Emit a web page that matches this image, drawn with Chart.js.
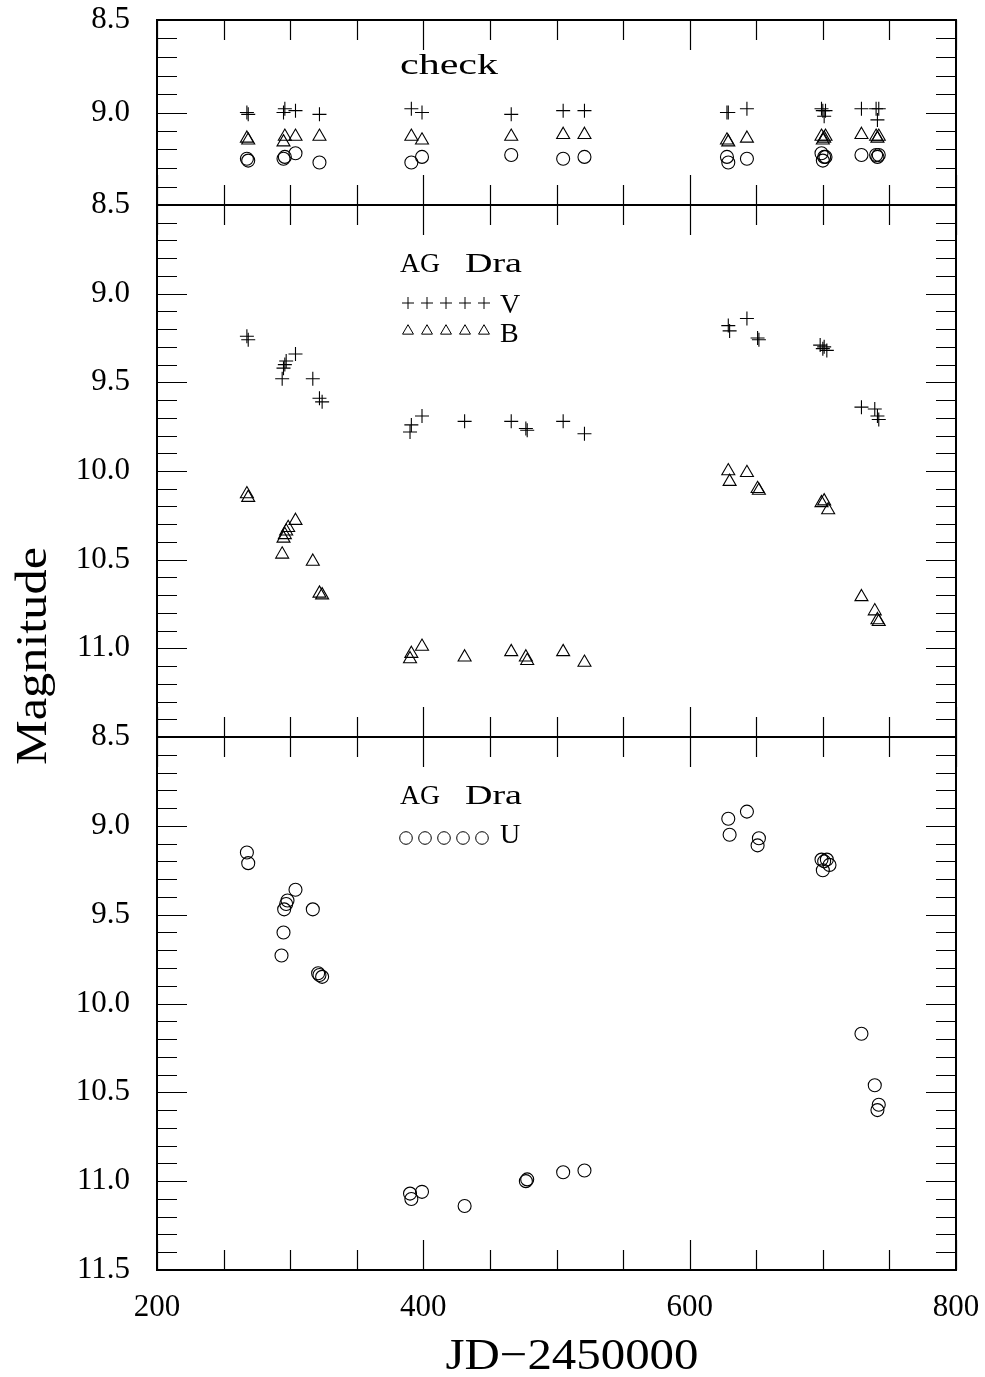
<!DOCTYPE html>
<html>
<head>
<meta charset="utf-8">
<script src="https://cdn.jsdelivr.net/npm/chart.js@4.4.0/dist/chart.umd.min.js"></script>
<style>
  html, body { margin: 0; padding: 0; background: #fff; }
  #wrap { width: 985px; height: 1377px; position: relative; }
</style>
</head>
<body>
<div id="wrap"><canvas id="grafico"></canvas></div>
<script>
// --- Estrella de comparacion (panel superior, "check") ---
const checkJD = [267.5, 268.5, 295, 296, 304, 322, 391, 399, 466, 505, 521, 628, 629, 643, 699, 700, 701, 702, 729, 740, 741, 742];
const checkV  = [9.00, 9.01, 9.00, 8.98, 8.99, 9.01, 8.98, 9.00, 9.01, 8.99, 8.99, 9.00, 9.00, 8.98, 8.98, 8.99, 9.02, 8.99, 8.98, 8.98, 9.04, 8.98];
const checkB  = [9.14, 9.15, 9.16, 9.13, 9.13, 9.13, 9.13, 9.15, 9.13, 9.12, 9.12, 9.15, 9.16, 9.14, 9.13, 9.15, 9.14, 9.13, 9.12, 9.13, 9.14, 9.13];
const checkU  = [9.25, 9.26, 9.25, 9.24, 9.22, 9.27, 9.27, 9.24, 9.23, 9.25, 9.24, 9.24, 9.27, 9.25, 9.22, 9.26, 9.24, 9.24, 9.23, 9.23, 9.24, 9.23];

// --- AG Dra, V ---
const vJD  = [267.5, 268.5, 294, 295, 296, 297, 304, 317, 322, 324, 390, 391, 399, 431, 466, 477, 478, 505, 521, 629, 630, 643, 651, 652, 698, 700, 701, 703, 729, 739, 741, 742];
const vMag = [9.24, 9.26, 9.48, 9.42, 9.40, 9.38, 9.34, 9.48, 9.59, 9.61, 9.78, 9.74, 9.69, 9.72, 9.72, 9.76, 9.77, 9.72, 9.79, 9.18, 9.21, 9.14, 9.25, 9.26, 9.29, 9.31, 9.30, 9.32, 9.64, 9.65, 9.69, 9.71];

// --- AG Dra, B ---
const bJD  = [267.5, 268.5, 294, 295, 296, 297, 298.5, 304, 317, 322, 324, 390, 391, 399, 431, 466, 477, 478, 505, 521, 629, 630, 643, 651, 652, 699, 701, 704, 729, 739, 741, 742];
const bMag = [10.13, 10.15, 10.47, 10.38, 10.36, 10.34, 10.32, 10.28, 10.51, 10.69, 10.70, 11.06, 11.03, 10.99, 11.05, 11.02, 11.05, 11.07, 11.02, 11.08, 10.00, 10.06, 10.01, 10.10, 10.11, 10.18, 10.17, 10.22, 10.71, 10.79, 10.84, 10.85];

// --- AG Dra, U ---
const uJD  = [267.5, 268.5, 293.5, 295, 295.5, 297, 298, 304, 317, 321, 322, 324, 390, 391, 399, 431, 477, 478, 505, 521, 629, 630, 643, 651, 652, 699, 700, 701, 703, 705, 729, 739, 741, 742];
const uMag = [9.15, 9.21, 9.73, 9.60, 9.47, 9.44, 9.42, 9.36, 9.47, 9.83, 9.84, 9.85, 11.07, 11.10, 11.06, 11.14, 11.00, 10.99, 10.95, 10.94, 8.96, 9.05, 8.92, 9.11, 9.07, 9.19, 9.25, 9.20, 9.19, 9.22, 10.17, 10.46, 10.60, 10.57];

// ejes
const xTicks = [200, 400, 600, 800];
const serif = "'Liberation Serif', 'Times New Roman', serif";

const puntos = (xs, ys) => xs.map((x, i) => ({ x, y: ys[i] }));

function serie(label, xs, ys, eje, estilo, radio) {
  return {
    label, data: puntos(xs, ys), yAxisID: eje,
    pointStyle: estilo, pointRadius: radio, pointBorderWidth: 1.1,
    borderColor: '#000', backgroundColor: 'rgba(0,0,0,0)', showLine: false
  };
}

// un panel de magnitudes (eje y invertido)
function ejeY(min, max, peso, orden, ocultarMax) {
  return {
    type: 'linear', position: 'left', stack: 'mag', stackWeight: peso, weight: orden,
    reverse: true, min, max,
    grid: { display: false, drawTicks: false },
    border: { display: false },
    ticks: {
      stepSize: 0.5, padding: 27, color: '#000', autoSkip: false,
      font: { family: serif, size: 31 },
      callback: v => (ocultarMax && Math.abs(v - max) < 1e-6) ? '' : Number(v).toFixed(1)
    },
    afterFit: s => { s.width = 157; s.paddingTop = 0; s.paddingBottom = 0; }
  };
}

// texto estirado a un ancho dado (la fuente original es mas ancha)
function texto(ctx, txt, x, y, size, ancho) {
  ctx.font = size + 'px ' + serif;
  const w = ctx.measureText(txt).width;
  ctx.save();
  ctx.translate(x, y);
  ctx.scale(ancho ? ancho / w : 1, 1);
  ctx.fillText(txt, 0, 0);
  ctx.restore();
}

function marca(ctx, estilo, radio, x, y) {
  Chart.helpers.drawPoint(ctx, { pointStyle: estilo, radius: radio, rotation: 0, borderWidth: 1 }, x, y);
}

// marco, marcas de escala, rotulos y leyendas
const marco = {
  id: 'marco',
  afterDatasetsDraw(chart) {
    const ctx = chart.ctx;
    const xs = chart.scales.x;
    const ca = chart.chartArea;
    ctx.save();
    ctx.strokeStyle = '#000';
    ['yTop', 'yMid', 'yBot'].forEach(id => {
      const ys = chart.scales[id];
      ctx.lineWidth = 1.2;
      ctx.beginPath();
      for (let k = 0; ys.min + k * 0.1 <= ys.max + 1e-6; k++) {
        const p = Math.round(ys.getPixelForValue(ys.min + k * 0.1)) + 0.5;
        const L = k % 5 === 0 ? 30 : 20;
        ctx.moveTo(ca.left, p); ctx.lineTo(ca.left + L, p);
        ctx.moveTo(ca.right, p); ctx.lineTo(ca.right - L, p);
      }
      for (let v = xs.min; v <= xs.max; v += 50) {
        const p = Math.round(xs.getPixelForValue(v)) + 0.5;
        const L = v % 200 === 0 ? 30 : 20;
        ctx.moveTo(p, ys.top); ctx.lineTo(p, ys.top + L);
        ctx.moveTo(p, ys.bottom); ctx.lineTo(p, ys.bottom - L);
      }
      ctx.stroke();
      ctx.lineWidth = 2;
      ctx.strokeRect(ca.left, ys.top, ca.right - ca.left, ys.bottom - ys.top);
    });

    // rotulos dentro de los paneles
    ctx.fillStyle = '#000';
    ctx.textBaseline = 'alphabetic';
    ctx.textAlign = 'left';
    texto(ctx, 'check', 400, 74, 30, 98);
    texto(ctx, 'AG', 400, 272, 28, 40);
    texto(ctx, 'Dra', 465, 272, 28, 57);
    texto(ctx, 'V', 500, 313, 28);
    texto(ctx, 'B', 500, 342, 28);
    texto(ctx, 'AG', 400, 804, 28, 40);
    texto(ctx, 'Dra', 465, 804, 28, 57);
    texto(ctx, 'U', 500, 843, 28);

    ctx.fillStyle = 'rgba(0,0,0,0)';
    ctx.lineWidth = 1;
    [408, 427, 446, 465, 484].forEach(px => {
      marca(ctx, 'cross', 6, px, 303);
      marca(ctx, 'triangle', 6.3, px, 331);
      marca(ctx, 'circle', 6.3, px - 2, 838);
    });

    // titulos de ejes
    ctx.fillStyle = '#000';
    ctx.textAlign = 'center';
    ctx.textBaseline = 'alphabetic';
    texto(ctx, 'JD\u22122450000', 572, 1369, 44, 253);
    ctx.save();
    ctx.translate(46, 656);
    ctx.rotate(-Math.PI / 2);
    texto(ctx, 'Magnitude', 0, 0, 44, 218);
    ctx.restore();
    ctx.restore();
  }
};

new Chart(document.getElementById('grafico'), {
  type: 'scatter',
  data: {
    datasets: [
      serie('check V', checkJD, checkV, 'yTop', 'cross', 7),
      serie('check B', checkJD, checkB, 'yTop', 'triangle', 7.5),
      serie('check U', checkJD, checkU, 'yTop', 'circle', 6.5),
      serie('V', vJD, vMag, 'yMid', 'cross', 7),
      serie('B', bJD, bMag, 'yMid', 'triangle', 7.5),
      serie('U', uJD, uMag, 'yBot', 'circle', 6.5)
    ]
  },
  options: {
    responsive: true,
    maintainAspectRatio: false,
    animation: false,
    events: [],
    layout: { padding: { top: 20, right: 29, left: 0, bottom: 0 } },
    plugins: { legend: { display: false }, tooltip: { enabled: false } },
    scales: {
      x: {
        type: 'linear', position: 'bottom', min: 200, max: 800,
        grid: { display: false, drawTicks: false },
        border: { display: false },
        afterBuildTicks: s => { s.ticks = xTicks.map(v => ({ value: v })); },
        ticks: { padding: 19, color: '#000', font: { family: serif, size: 31 } },
        afterFit: s => { s.height = 107; s.paddingLeft = 0; s.paddingRight = 0; }
      },
      yTop: ejeY(8.5, 9.5, 185, 3, true),
      yMid: ejeY(8.5, 11.5, 532, 2, true),
      yBot: ejeY(8.5, 11.5, 533, 1, false)
    }
  },
  plugins: [marco]
});
</script>
</body>
</html>
